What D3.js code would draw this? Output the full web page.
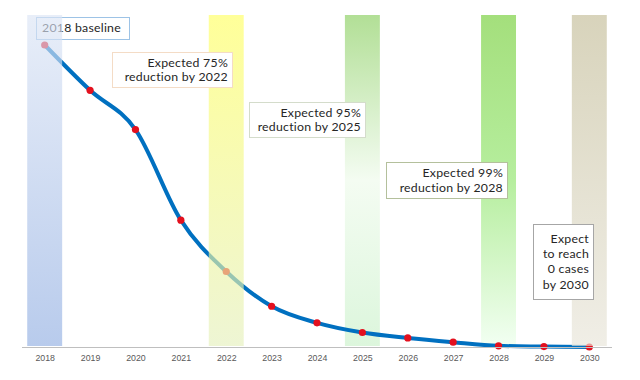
<!DOCTYPE html>
<html>
<head>
<meta charset="utf-8">
<script src="https://cdn.jsdelivr.net/npm/d3@7"></script>
<style>
  body { margin: 0; background: #fff; }
  svg { display: block; }
</style>
</head>
<body>
<div id="chart"></div>
<script>
// data
const years = ["2018","2019","2020","2021","2022","2023","2024","2025","2026","2027","2028","2029","2030"];
const cases = [100, 85, 72, 42, 25, 13.5, 8, 4.8, 3, 1.6, 0.4, 0.15, 0];
const bandYears = ["2018","2022","2025","2028","2030"];
const noteYears = ["2018","2022","2025","2028","2030"];
const noteTexts = [
  ["2018 baseline"],
  ["Expected 75%", "reduction by 2022"],
  ["Expected 95%", "reduction by 2025"],
  ["Expected 99%", "reduction by 2028"],
  ["Expect", "to reach", "0 cases", "by 2030"]
];

// layout / style
const W = 640, H = 380;
const axisY = 347;
const bandTop = 15;
const bandStyle = {
  "2018": { stops: ["#dce5f5", "#92afe2"], top: true },
  "2022": { stops: ["#ffff62", "#e5f0bd"], top: true },
  "2025": { stops: ["#b2df96", "#f4fcf2", "#dcf6dc"], top: false },
  "2028": { stops: ["#a4df7c", "#b6ee9e", "#f2fff2"], top: false },
  "2030": { stops: ["#c3bc97", "#e8e5d9"], top: true }
};
const noteLayout = {
  "2018": { x: 36, y: 17, w: 93, h: 22, stroke: "#9dc3e6", align: "start" },
  "2022": { x: 112, y: 52, w: 120, h: 35, stroke: "#f4dcc6", align: "end" },
  "2025": { x: 249, y: 102, w: 116, h: 35, stroke: "#d4dccb", align: "end" },
  "2028": { x: 386, y: 162, w: 121, h: 36, stroke: "#b4c09c", align: "end" },
  "2030": { x: 533, y: 224, w: 60, h: 75, stroke: "#a6a6a6", align: "end" }
};

const svg = d3.select("#chart").append("svg")
  .attr("width", W).attr("height", H);

const x = d3.scalePoint().domain(years).range([22, 612]).padding(0.5);
const step = x.step();
const bw = step * 0.77;
const y = d3.scaleLinear().domain([0, 100]).range([axisY, 45]);

// gradients
const defs = svg.append("defs");
bandYears.forEach(function(yr) {
  const st = bandStyle[yr];
  const g = defs.append("linearGradient").attr("id", "g" + yr)
    .attr("x1", 0).attr("y1", 0).attr("x2", 0).attr("y2", 1);
  st.stops.forEach(function(c, i) {
    g.append("stop")
      .attr("offset", i / (st.stops.length - 1))
      .attr("stop-color", c);
  });
});

function drawBands(onTop) {
  svg.append("g").selectAll("rect")
    .data(bandYears.filter(function(d) { return bandStyle[d].top === onTop; }))
    .enter().append("rect")
    .attr("x", function(d) { return x(d) - bw / 2; })
    .attr("y", bandTop)
    .attr("width", bw)
    .attr("height", axisY - 1 - bandTop)
    .attr("fill", function(d) { return "url(#g" + d + ")"; })
    .attr("fill-opacity", onTop ? 0.65 : 1);
}

function drawNotes(list) {
  list.forEach(function(yr) {
    const L = noteLayout[yr];
    const lines = noteTexts[noteYears.indexOf(yr)];
    const g = svg.append("g");
    g.append("rect")
      .attr("x", L.x + 0.5).attr("y", L.y + 0.5)
      .attr("width", L.w).attr("height", L.h)
      .attr("fill", "#fff")
      .attr("stroke", L.stroke).attr("stroke-width", 1);
    const lh = lines.length > 2 ? 15.3 : 14.5;
    const tx = L.align === "start" ? L.x + 6 : L.x + L.w - 4;
    g.selectAll("text").data(lines).enter().append("text")
      .attr("x", tx)
      .attr("y", function(d, i) { return L.y + L.h / 2 + (i - (lines.length - 1) / 2) * lh; })
      .attr("dy", "0.35em")
      .attr("text-anchor", L.align)
      .attr("font-family", "Lato, 'Open Sans', sans-serif")
      .attr("font-size", 12.3)
      .attr("letter-spacing", 0.25)
      .attr("fill", "#262626")
      .text(function(d) { return d; });
  });
}

drawBands(false);
drawNotes(["2018"]);

// line
const pts = years.map(function(d, i) { return [x(d), y(cases[i])]; });
svg.append("path")
  .attr("d", d3.line().curve(d3.curveCardinal.tension(0))(pts))
  .attr("fill", "none")
  .attr("stroke", "#0070c0")
  .attr("stroke-width", 4)
  .attr("stroke-linecap", "round");

svg.append("g").selectAll("circle")
  .data(pts)
  .enter().append("circle")
  .attr("cx", function(d) { return d[0]; })
  .attr("cy", function(d) { return d[1]; })
  .attr("r", 3.6)
  .attr("fill", "#e3101e");

drawBands(true);
drawNotes(["2022", "2025", "2028", "2030"]);

// x axis
const axis = svg.append("g")
  .attr("transform", "translate(0," + axisY + ")")
  .call(d3.axisBottom(x).tickSize(0).tickPadding(8));
axis.select(".domain")
  .attr("d", "M22,0.5H612")
  .attr("stroke", "#bfbfbf").attr("stroke-width", 1.2);
axis.selectAll("text")
  .attr("font-family", "'Liberation Sans', Arial, sans-serif")
  .attr("font-size", 8.8)
  .attr("fill", "#595959");
</script>
</body>
</html>
